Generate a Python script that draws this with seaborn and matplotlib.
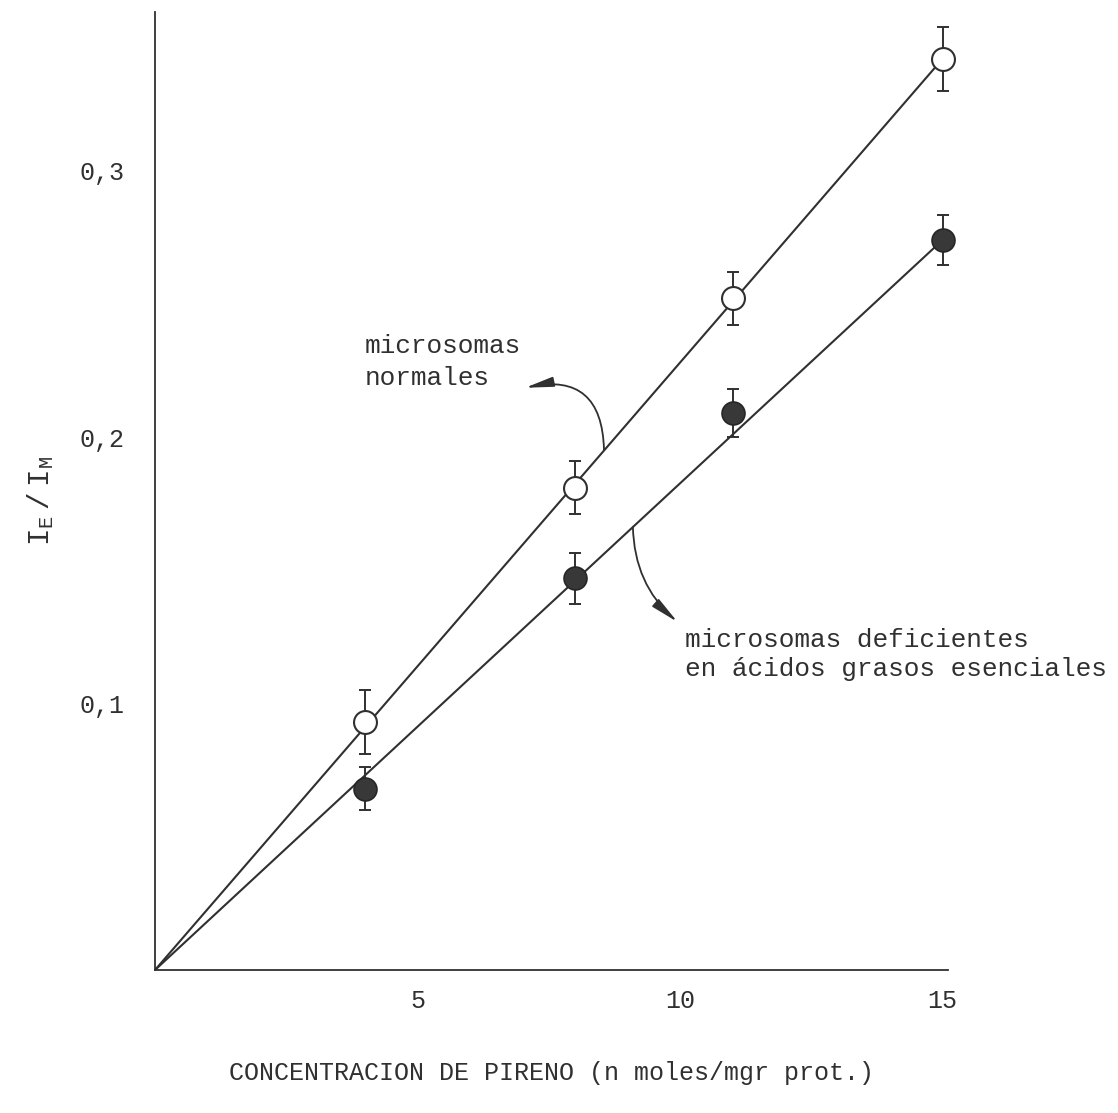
import matplotlib
matplotlib.use("Agg")
import matplotlib.pyplot as plt
import pandas as pd
import seaborn as sns

# Pyrene excimer / monomer ratio versus pyrene concentration
conc = [4, 8, 11, 15]
normal_ratio = [0.093, 0.181, 0.252, 0.342]
normal_err = [0.012, 0.010, 0.010, 0.012]
deficient_ratio = [0.068, 0.147, 0.209, 0.274]
deficient_err = [0.008, 0.0095, 0.009, 0.0095]

# straight fits through the origin
fit_conc = [0, 15]
normal_fit = [0.0, 0.342]
deficient_fit = [0.0, 0.274]

x_ticks = [5, 10, 15]
x_ticklabels = ["5", "10", "15"]
y_ticks = [0.1, 0.2, 0.3]
y_ticklabels = ["0,1", "0,2", "0,3"]

INK = "#303030"

sns.set_style("white")
plt.rcParams["font.family"] = ["Liberation Mono", "DejaVu Sans"]
plt.rcParams["mathtext.fontset"] = "custom"
plt.rcParams["mathtext.rm"] = "Liberation Mono"
plt.rcParams["mathtext.it"] = "Liberation Mono"
plt.rcParams["mathtext.bf"] = "Liberation Mono"
plt.rcParams["text.color"] = INK

W, H = 1118, 1113
fig = plt.figure(figsize=(W / 100, H / 100), dpi=100)
ax = fig.add_axes([155 / W, 1 - 970 / H, 793 / W, 958 / H])

fits = pd.DataFrame({
    "conc": fit_conc + fit_conc,
    "ratio": normal_fit + deficient_fit,
    "grupo": ["normal"] * 2 + ["deficiente"] * 2,
})
sns.lineplot(data=fits, x="conc", y="ratio", hue="grupo",
             palette={"normal": INK, "deficiente": INK},
             linewidth=1.5, legend=False, ax=ax, zorder=2)

for ratio, err in ((normal_ratio, normal_err), (deficient_ratio, deficient_err)):
    eb = ax.errorbar(conc, ratio, yerr=err, fmt="none", ecolor=INK,
                     elinewidth=1.4, capsize=4.5, capthick=1.4, zorder=3)
    for artist in eb.lines[1] + eb.lines[2]:
        artist.set_clip_on(False)

sns.scatterplot(x=conc, y=normal_ratio, marker="o", s=16.5 ** 2,
                color="white", edgecolor=INK, linewidth=1.5, zorder=4,
                clip_on=False, ax=ax)
sns.scatterplot(x=conc, y=deficient_ratio, marker="o", s=16.5 ** 2,
                color="#383838", edgecolor="#262626", linewidth=1.2,
                zorder=4, clip_on=False, ax=ax)

ax.set_xlim(0, 15.1)
ax.set_ylim(0, 0.3595)
ax.set_xticks(x_ticks)
ax.set_xticklabels(x_ticklabels)
ax.set_yticks(y_ticks)
ax.set_yticklabels(y_ticklabels)

for side in ("top", "right"):
    ax.spines[side].set_visible(False)
for side in ("left", "bottom"):
    ax.spines[side].set_color(INK)
    ax.spines[side].set_linewidth(1.3)

ax.tick_params(axis="y", direction="out", length=6, width=1.3, color=INK,
               pad=16, labelsize=18, labelcolor=INK)
ax.tick_params(axis="x", direction="out", length=0, pad=14,
               labelsize=18, labelcolor=INK)

ax.set_xlabel("CONCENTRACION DE PIRENO (n moles/mgr prot.)", fontsize=18,
              color=INK, labelpad=34)
ax.set_ylabel(r"$\mathrm{I_E\ /\ I_M}$", fontsize=21, color=INK)
ax.yaxis.set_label_coords(-0.125, 0.49)

arrow_style = "-|>,head_length=1.7,head_width=0.3"

# curve labels with bent arrows
ax.text(4.0, 0.2315, "microsomas", fontsize=18.8, ha="left", va="baseline")
ax.text(4.0, 0.2195, "normales", fontsize=18.8, ha="left", va="baseline")
ax.annotate("", xy=(7.05, 0.2185), xytext=(8.55, 0.1951),
            arrowprops=dict(arrowstyle=arrow_style,
                            connectionstyle="arc3,rad=0.6", color=INK,
                            lw=1.3, shrinkA=0, shrinkB=0))

ax.text(10.1, 0.1212, "microsomas deficientes", fontsize=18.8,
        ha="left", va="baseline")
ax.text(10.1, 0.1103, "en ácidos grasos esenciales", fontsize=18.8,
        ha="left", va="baseline")
ax.annotate("", xy=(9.95, 0.1306), xytext=(9.1, 0.1662),
            arrowprops=dict(arrowstyle=arrow_style,
                            connectionstyle="arc3,rad=0.22", color=INK,
                            lw=1.3, shrinkA=0, shrinkB=0))

fig.savefig("out.png", dpi=100, facecolor="white")
